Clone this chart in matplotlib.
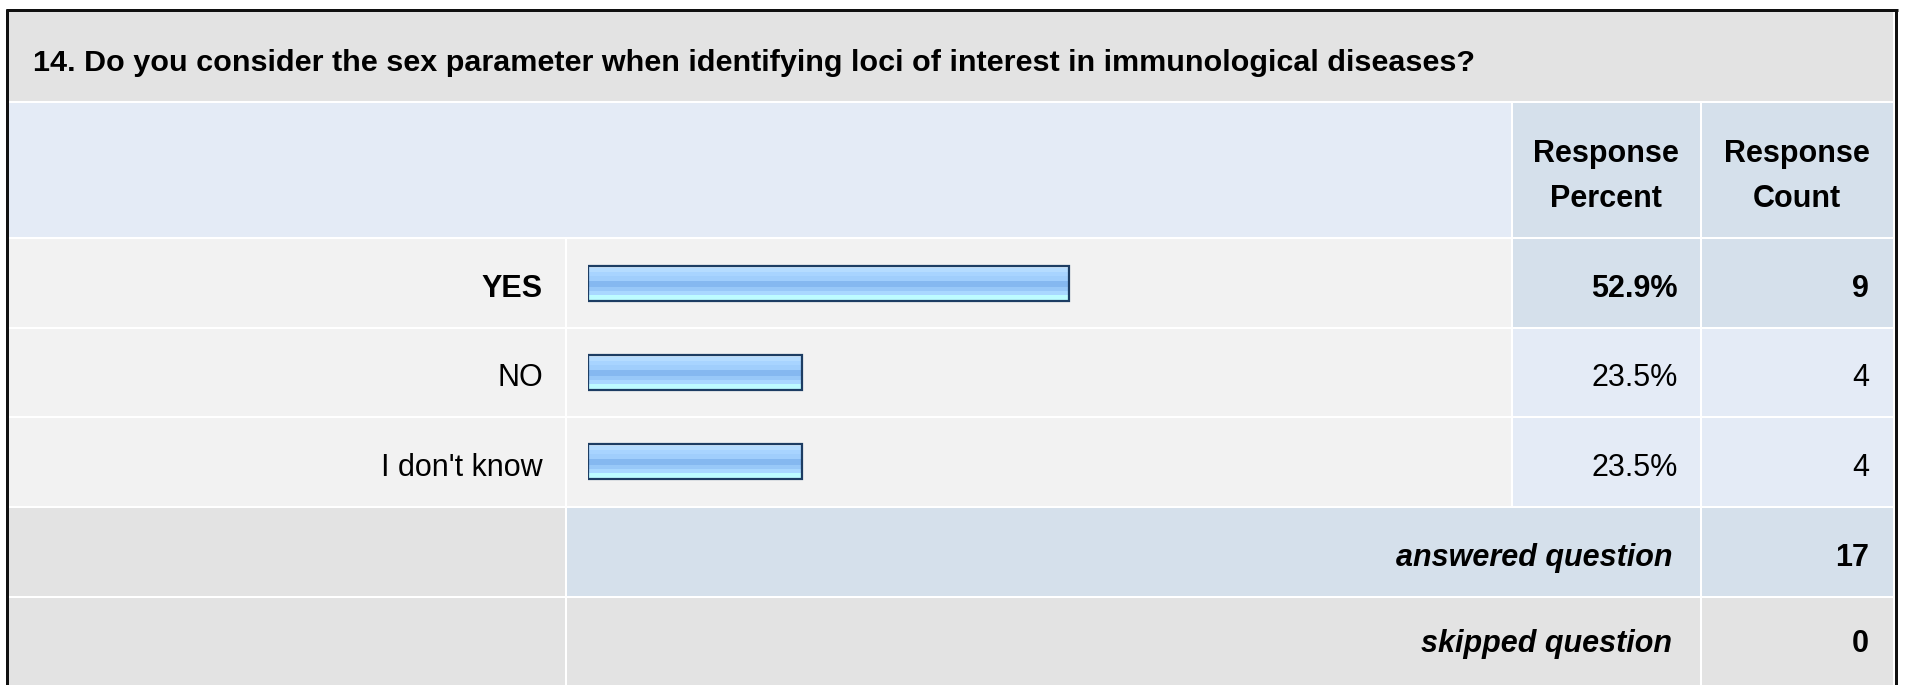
import numpy as np
import matplotlib
matplotlib.use("Agg")
import matplotlib.pyplot as plt
from matplotlib.patches import Rectangle
from matplotlib.colors import to_rgb

# ---------------- data ----------------
title = "14. Do you consider the sex parameter when identifying loci of interest in immunological diseases?"
categories = ["YES", "NO", "I don't know"]
percents = [52.9, 23.5, 23.5]
counts = [9, 4, 4]
col_headers = ["Response\nPercent", "Response\nCount"]
summary_labels = ["answered question", "skipped question"]
summary_counts = [17, 0]

# ---------------- figure ----------------
W, H = 1907, 685
plt.rcParams["font.family"] = ["Liberation Sans", "DejaVu Sans"]
fig = plt.figure(figsize=(W / 100, H / 100), dpi=100)
fig.patch.set_facecolor("white")
ax = fig.add_axes([0, 0, 1, 1])
ax.set_xlim(0, W)
ax.set_ylim(H, 0)
ax.axis("off")

GRAY = "#e3e3e3"
LBLUE = "#e4ebf6"
DBLUE = "#d5e0eb"
ROWC = "#f2f2f2"


def cell(x0, x1, y0, y1, c):
    ax.add_patch(Rectangle((x0, y0), x1 - x0, y1 - y0, facecolor=c, edgecolor="none", zorder=1))


# column edges
L0, L1 = 9, 565
B0, B1 = 567, 1511
P0, P1 = 1512.5, 1700
C0, C1 = 1702, 1892.5
# row edges
T0, T1 = 11, 101
HD0, HD1 = 103, 237
rows = [(239, 326.5), (328.5, 416), (418, 506)]
summ_rows = [(508, 596), (598, 690)]
summ_base = [566, 652]

# title band
cell(L0, C1, T0, T1, GRAY)
ax.text(33, 71, title, fontsize=21.95, fontweight="bold", ha="left", va="baseline", zorder=3)

# header band
cell(L0, B1, HD0, HD1, LBLUE)
cell(P0, P1, HD0, HD1, DBLUE)
cell(C0, C1, HD0, HD1, DBLUE)
for (x0, x1), hdr in zip([(P0, P1), (C0, C1)], col_headers):
    xc = (x0 + x1) / 2
    for k, line in enumerate(hdr.split("\n")):
        ax.text(xc, 162 + 45 * k, line, fontsize=22, fontweight="bold",
                ha="center", va="baseline", zorder=3)

# answer rows
imax = int(np.argmax(percents))
for i, ((y0, y1), cat, pct, cnt) in enumerate(zip(rows, categories, percents, counts)):
    bold = "bold" if i == imax else "normal"
    bg = DBLUE if i == imax else LBLUE
    cell(L0, L1, y0, y1, ROWC)
    cell(B0, B1, y0, y1, ROWC)
    cell(P0, P1, y0, y1, bg)
    cell(C0, C1, y0, y1, bg)
    yb = (y0 + y1) / 2 + 14
    ax.text(543, yb, cat, fontsize=22, fontweight=bold, ha="right", va="baseline", zorder=3)
    ax.text(1678, yb, f"{pct:.1f}%", fontsize=22, fontweight=bold, ha="right", va="baseline", zorder=3)
    ax.text(1869, yb, f"{cnt}", fontsize=22, fontweight=bold, ha="right", va="baseline", zorder=3)

# summary rows
for j, ((y0, y1), yb, lab, cnt) in enumerate(zip(summ_rows, summ_base, summary_labels, summary_counts)):
    cell(L0, L1, y0, y1, GRAY)
    mid = DBLUE if j == 0 else GRAY
    cell(B0, P1, y0, y1, mid)
    cell(C0, C1, y0, y1, mid)
    ax.text(1672, yb, lab, fontsize=22, fontweight="bold", fontstyle="italic",
            ha="right", va="baseline", zorder=3)
    ax.text(1869, yb, f"{cnt}", fontsize=22, fontweight="bold", ha="right", va="baseline", zorder=3)

# outer frame
lw = 3 * 72 / 100
ax.plot([7, 7], [8.5, H + 5], color="#111111", lw=lw, solid_capstyle="butt", zorder=5)
ax.plot([1896, 1896], [8.5, H + 5], color="#111111", lw=lw, solid_capstyle="butt", zorder=5)
ax.plot([5.5, 1897.5], [9.75, 9.75], color="#111111", lw=lw, solid_capstyle="butt", zorder=5)

# ---------------- bars ----------------
bx0, bw = 588, 910
by0, by1 = rows[0][0], rows[-1][1]
bax = fig.add_axes([bx0 / W, 1 - by1 / H, bw / W, (by1 - by0) / H])
bax.patch.set_alpha(0)
bax.axis("off")

stripes = [(0.06, "#d4eaff"), (0.11, "#b5dcff"), (0.12, "#a8d4ff"), (0.13, "#a0cefc"),
           (0.19, "#85b8f0"), (0.10, "#98c8f8"), (0.12, "#a9d8ff"), (0.17, "#bdfcff")]
grad_rows = []
for frac, c in stripes:
    grad_rows += [to_rgb(c)] * int(round(frac * 100))
grad = np.array(grad_rows).reshape(-1, 1, 3)

bh = 0.385
ypos = np.arange(len(categories))
bars = bax.barh(ypos, percents, height=bh, facecolor="none", edgecolor="#1d3d63",
                linewidth=1.6, zorder=3)
for yy, pct, b in zip(ypos, percents, bars):
    im = bax.imshow(grad, extent=(0, pct, yy + bh / 2, yy - bh / 2), aspect="auto",
                    interpolation="nearest", zorder=2)
    im.set_clip_path(b)
bax.set_xlim(0, 100)
bax.set_ylim(len(categories) - 0.5, -0.5)

fig.savefig("out.png", dpi=100, facecolor="white")
